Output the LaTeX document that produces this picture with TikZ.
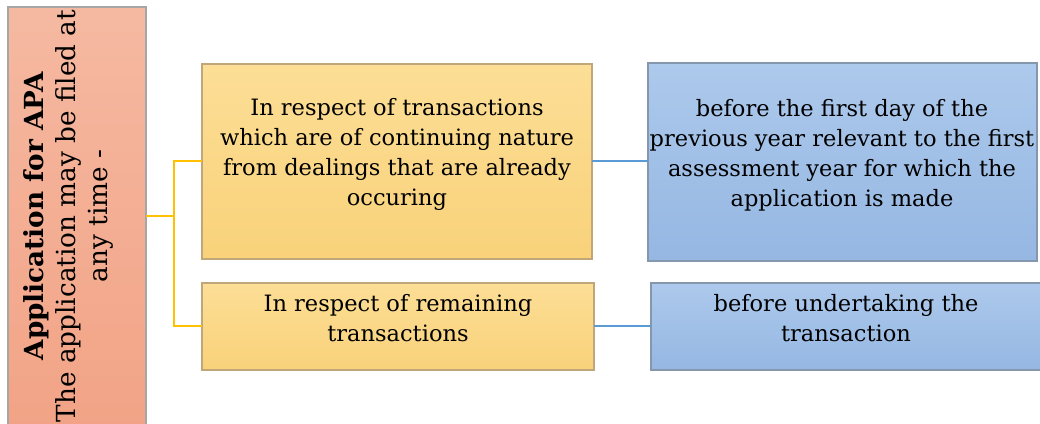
\documentclass[tikz,border=0pt]{standalone}
\usepackage{fontspec}
\setmainfont{DejaVu Serif}
\begin{document}
\begin{tikzpicture}[x=0.75pt,y=-0.75pt,
  base/.style={inner sep=0pt, outer sep=0pt, line width=1pt},
  leftbox/.style={base, draw=black!35, top color=apaTop, bottom color=apaBot},
  ybox/.style={base, draw=ybord, top color=yTop, bottom color=yBot},
  bbox/.style={base, draw=bbord, top color=bTop, bottom color=bBot},
  txt/.style={inner sep=0pt, align=center, font=\fontsize{16.9}{22.5}\selectfont},
  yline/.style={draw=yline, line width=1.5pt},
  bline/.style={draw=bline, line width=1.5pt}]
\definecolor{apaTop}{HTML}{F5B9A1}
\definecolor{apaBot}{HTML}{F2A386}
\definecolor{yTop}{HTML}{FCDE96}
\definecolor{yBot}{HTML}{F9D27A}
\definecolor{ybord}{HTML}{BFA77A}
\definecolor{bTop}{HTML}{ADC9EC}
\definecolor{bBot}{HTML}{95B7E2}
\definecolor{bbord}{HTML}{8597AC}
\definecolor{yline}{HTML}{FFC000}
\definecolor{bline}{HTML}{5B9BD5}
\useasboundingbox (0,0) rectangle (1040,424);
% left box
\path[leftbox] (8,7) rectangle (146,430);
\node[txt, rotate=90, font=\fontsize{19.7}{24}\selectfont] (apa) at (68,216)
  {\textbf{Application for APA}\\The application may be filed at\\any time -};
\coordinate (apaR) at (146,216);
% yellow boxes
\path[ybox] (202,64) rectangle (592,259);
\node[txt] (t1) at (397,154)
  {In respect of transactions\\which are of continuing nature\\from dealings that are already\\occuring};
\path[ybox] (202,283) rectangle (594,370);
\node[txt] (t2) at (398,318)
  {In respect of remaining\\transactions};
% blue boxes
\path[bbox] (648,63) rectangle (1037,261);
\node[txt] (t3) at (842,155)
  {before the first day of the\\previous year relevant to the first\\assessment year for which the\\application is made};
\path[bbox] (651,283) rectangle (1042,370);
\node[txt] (t4) at (846,318)
  {before undertaking the\\transaction};
% connectors
\coordinate (y1L) at (202,161);
\coordinate (y2L) at (202,326);
\coordinate (y1R) at (592,161);
\coordinate (y2R) at (594,326);
\coordinate (b1L) at (648,161);
\coordinate (b2L) at (651,326);
\coordinate (jn) at (174,216);
\draw[yline] (apaR) -- (jn);
\draw[yline] (y1L) -| (jn) |- (y2L);
\draw[bline] (y1R) -- (b1L);
\draw[bline] (y2R) -- (b2L);
\end{tikzpicture}
\end{document}
